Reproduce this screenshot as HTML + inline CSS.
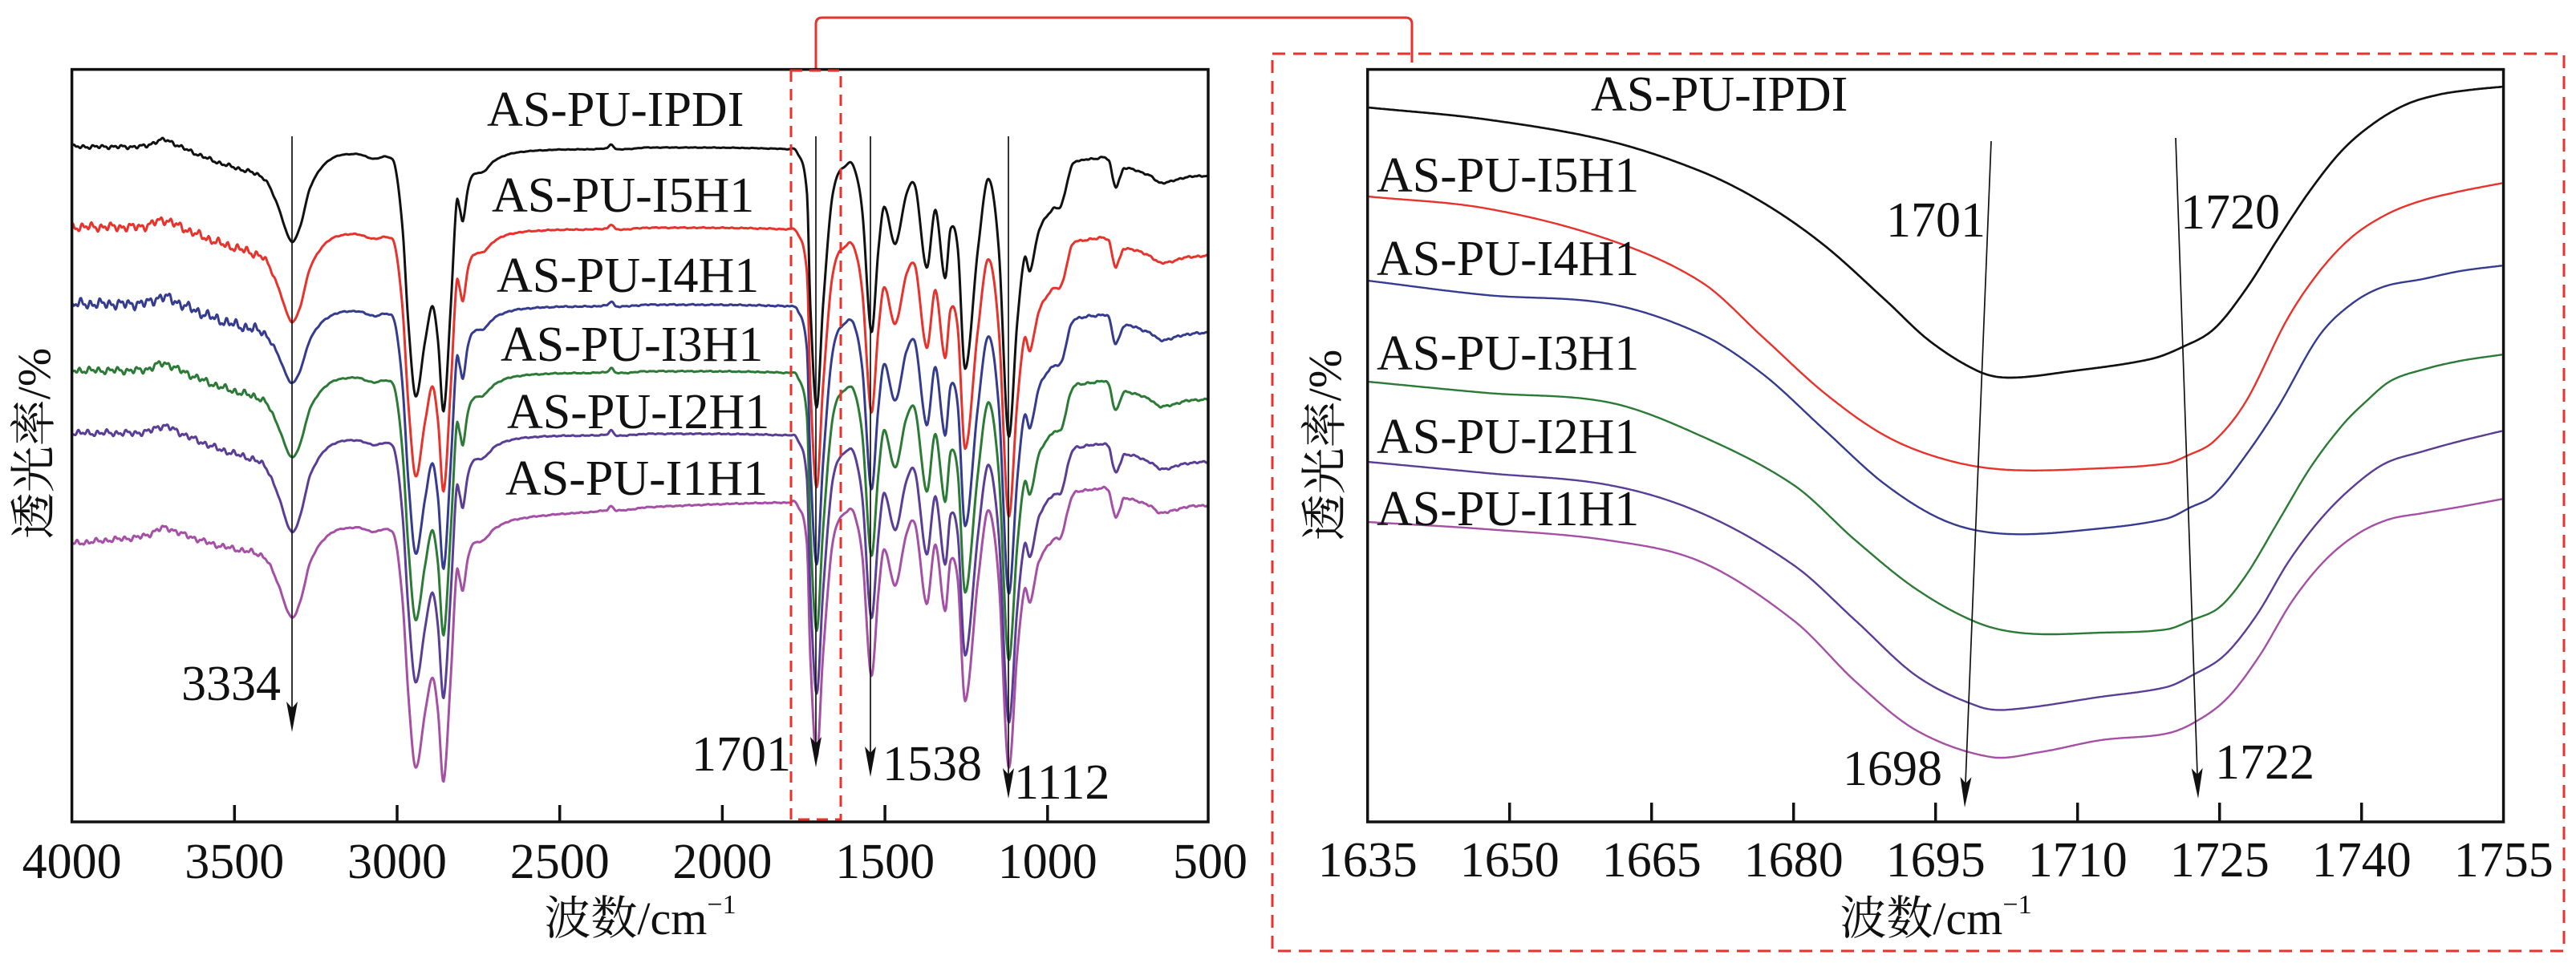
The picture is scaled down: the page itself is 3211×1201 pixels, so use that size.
<!DOCTYPE html>
<html>
<head>
<meta charset="utf-8">
<style>
html,body{margin:0;padding:0;background:#fff;}
svg{display:block;}
text{font-family:"Liberation Serif","Noto Serif CJK SC",serif;fill:#111;}
.cjk{font-family:"Noto Serif CJK SC","Liberation Serif",serif;}
</style>
</head>
<body>
<svg id="s" width="3211" height="1201" viewBox="0 0 3211 1201" xmlns="http://www.w3.org/2000/svg">
<rect width="3211" height="1201" fill="#fff"/>

<!-- red connector and dashed boxes -->
<path d="M1017 88 L1017 30 Q1017 22 1025 22 L1752 22 Q1760 22 1760 30 L1760 78" fill="none" stroke="#e8322c" stroke-width="3"/>
<rect x="1586" y="67" width="1610" height="1119" fill="none" stroke="#e8322c" stroke-width="3" stroke-dasharray="16 10"/>

<!-- curves -->
<g id="lc" fill="none" stroke-width="3" stroke-linejoin="round" stroke-linecap="round"></g>
<g id="rc" fill="none" stroke-width="2.4" stroke-linejoin="round" stroke-linecap="round"></g>

<!-- left frame -->
<rect x="89.6" y="86.6" width="1416.4" height="938.4" fill="none" stroke="#111" stroke-width="3.5"/>
<g stroke="#111" stroke-width="3.5">
<line x1="292.3" y1="1025" x2="292.3" y2="1004"/>
<line x1="495" y1="1025" x2="495" y2="1004"/>
<line x1="697.7" y1="1025" x2="697.7" y2="1004"/>
<line x1="900.4" y1="1025" x2="900.4" y2="1004"/>
<line x1="1103.1" y1="1025" x2="1103.1" y2="1004"/>
<line x1="1305.8" y1="1025" x2="1305.8" y2="1004"/>
</g>
<g font-size="62" text-anchor="middle">
<text x="89.6" y="1095">4000</text>
<text x="292.3" y="1095">3500</text>
<text x="495" y="1095">3000</text>
<text x="697.7" y="1095">2500</text>
<text x="900.4" y="1095">2000</text>
<text x="1103.1" y="1095">1500</text>
<text x="1305.8" y="1095">1000</text>
<text x="1508.5" y="1095">500</text>
</g>
<text x="798" y="1165" text-anchor="middle" font-size="58"><tspan class="cjk">波数</tspan>/cm<tspan dy="-26" font-size="34">−1</tspan></text>
<text transform="translate(62,553) rotate(-90)" text-anchor="middle" font-size="58"><tspan class="cjk">透光率</tspan>/%</text>

<!-- left small dashed box -->
<rect x="986" y="88" width="62" height="934" fill="none" stroke="#e8322c" stroke-width="3" stroke-dasharray="14 9"/>

<!-- left arrows -->
<g stroke="#111" stroke-width="1.7">
<line x1="364" y1="170" x2="364" y2="890"/>
<line x1="1017" y1="170" x2="1017" y2="934"/>
<line x1="1085" y1="170" x2="1085" y2="946"/>
<line x1="1257" y1="170" x2="1257" y2="973"/>
</g>
<g fill="#111">
<path d="M364 913 L357 875 L364 883 L371 875 Z"/>
<path d="M1017 957 L1010 919 L1017 927 L1024 919 Z"/>
<path d="M1085 969 L1078 931 L1085 939 L1092 931 Z"/>
<path d="M1257 996 L1250 958 L1257 966 L1264 958 Z"/>
</g>

<!-- left labels -->
<g font-size="62">
<text x="607" y="157">AS-PU-IPDI</text>
<text x="613" y="264">AS-PU-I5H1</text>
<text x="619" y="364">AS-PU-I4H1</text>
<text x="624" y="450">AS-PU-I3H1</text>
<text x="632" y="534">AS-PU-I2H1</text>
<text x="630" y="617">AS-PU-I1H1</text>
<text x="226" y="873">3334</text>
<text x="862" y="961">1701</text>
<text x="1100" y="973">1538</text>
<text x="1264" y="996">1112</text>
</g>

<!-- right frame -->
<rect x="1704.7" y="86.6" width="1415.9" height="938.4" fill="none" stroke="#111" stroke-width="3.5"/>
<g stroke="#111" stroke-width="3.5">
<line x1="1881.7" y1="1025" x2="1881.7" y2="1001"/>
<line x1="2058.7" y1="1025" x2="2058.7" y2="1001"/>
<line x1="2235.7" y1="1025" x2="2235.7" y2="1001"/>
<line x1="2412.7" y1="1025" x2="2412.7" y2="1001"/>
<line x1="2589.7" y1="1025" x2="2589.7" y2="1001"/>
<line x1="2766.7" y1="1025" x2="2766.7" y2="1001"/>
<line x1="2943.7" y1="1025" x2="2943.7" y2="1001"/>
</g>
<g font-size="62" text-anchor="middle">
<text x="1704.7" y="1093">1635</text>
<text x="1881.7" y="1093">1650</text>
<text x="2058.7" y="1093">1665</text>
<text x="2235.7" y="1093">1680</text>
<text x="2412.7" y="1093">1695</text>
<text x="2589.7" y="1093">1710</text>
<text x="2766.7" y="1093">1725</text>
<text x="2943.7" y="1093">1740</text>
<text x="3120.7" y="1093">1755</text>
</g>
<text x="2413" y="1165" text-anchor="middle" font-size="58"><tspan class="cjk">波数</tspan>/cm<tspan dy="-26" font-size="34">−1</tspan></text>
<text transform="translate(1671,555) rotate(-90)" text-anchor="middle" font-size="58"><tspan class="cjk">透光率</tspan>/%</text>

<!-- right arrows -->
<g stroke="#111" stroke-width="1.7">
<line x1="2482" y1="176" x2="2450" y2="977"/>
<line x1="2712" y1="172" x2="2739" y2="966"/>
</g>
<g fill="#111">
<path d="M2449 1007 L2443.5 968.7 L2450.2 977 L2457.5 969.3 Z"/>
<path d="M2740 996 L2731.7 958.2 L2739 966 L2745.7 957.8 Z"/>
</g>

<!-- right labels -->
<g font-size="62">
<text x="1983" y="138">AS-PU-IPDI</text>
<text x="1716" y="239">AS-PU-I5H1</text>
<text x="1716" y="343">AS-PU-I4H1</text>
<text x="1716" y="461">AS-PU-I3H1</text>
<text x="1716" y="565">AS-PU-I2H1</text>
<text x="1716" y="655">AS-PU-I1H1</text>
<text x="2351" y="295">1701</text>
<text x="2718" y="285">1720</text>
<text x="2297" y="979">1698</text>
<text x="2761" y="971">1722</text>
</g>
</svg>

<script>
(function(){
var NS='http://www.w3.org/2000/svg';
function herm(P,x){
  var n=P.length;
  if(x<=P[0][0]) return P[0][1];
  if(x>=P[n-1][0]) return P[n-1][1];
  var i=0; while(i<n-2 && x>P[i+1][0]) i++;
  function tan(j){
    if(j<=0) return (P[1][1]-P[0][1])/(P[1][0]-P[0][0]);
    if(j>=n-1) return (P[n-1][1]-P[n-2][1])/(P[n-1][0]-P[n-2][0]);
    return (P[j+1][1]-P[j-1][1])/(P[j+1][0]-P[j-1][0]);
  }
  var x0=P[i][0],y0=P[i][1],x1=P[i+1][0],y1=P[i+1][1];
  var m0=tan(i),m1=tan(i+1),h=x1-x0,t=(x-x0)/h,t2=t*t,t3=t2*t;
  return (2*t3-3*t2+1)*y0+(t3-2*t2+t)*h*m0+(-2*t3+3*t2)*y1+(t3-t2)*h*m1;
}
function lin(P,x){
  var n=P.length;
  if(x<=P[0][0]) return P[0][1];
  if(x>=P[n-1][0]) return P[n-1][1];
  for(var i=0;i<n-1;i++){ if(x<=P[i+1][0]){ var t=(x-P[i][0])/(P[i+1][0]-P[i][0]); return P[i][1]+t*(P[i+1][1]-P[i][1]); } }
  return P[n-1][1];
}
function nz(x,s){ return 0.55*Math.sin(0.52*x+s)+0.35*Math.sin(1.07*x+1.7*s)+0.25*Math.sin(0.23*x+2.9*s); }

var B=[[89,183],[130,183],[181,182],[199,175],[208,175],[227,184],[250,194],[273,203],[296,210],[319,217],[332,226],[346,256],[363,301],[374,283],[387,233],[410,200],[443,192],[466,198],[484,196],[493,210],[502,288],[509,403],[518,494],[530,425],[539,382],[546,425],[553,513],[562,380],[569,253],[573,260],[577,276],[583,237],[589,219],[603,214],[617,200],[640,191],[686,187],[756,185],[762,180],[768,186],[809,184],[983,186],[994,191],[1006,242],[1010,380],[1018,508],[1026,380],[1038,242],[1056,205],[1065,210],[1075,265],[1086,414],[1095,311],[1102,258],[1116,304],[1130,242],[1141,233],[1155,334],[1166,262],[1178,347],[1185,285],[1194,311],[1203,460],[1219,311],[1232,223],[1245,311],[1257,543],[1268,402],[1277,322],[1284,338],[1295,288],[1313,260],[1323,256],[1336,207],[1350,200],[1364,198],[1382,200],[1388,226],[1391,233],[1396,222],[1401,210],[1433,219],[1447,228],[1479,221],[1506,219]];
var MAG=[[89,495],[373,468],[535,463],[616,459],[818,448],[980,441],[1122,425],[1182,414],[1506,411]];

var LC=[
 {c:'#a54fa5',off:function(x){return lin(MAG,x);},s3:1.0,a:3,b:0.7,seed:5.1},
 {c:'#5a3d95',off:function(){return 357;},s3:1.05,a:3.5,b:0.7,seed:4.2},
 {c:'#2b7a35',off:function(){return 279;},s3:0.9,a:4,b:0.7,seed:3.3},
 {c:'#353b8e',off:function(){return 196;},s3:0.8,a:6,b:0.8,seed:2.4},
 {c:'#e8322c',off:function(){return 100;},s3:1.0,a:5,b:0.7,seed:1.5},
 {c:'#111111',off:function(){return 0;},s3:1.0,a:2.2,b:0.4,seed:0.6}
];
var lb0=herm(B,300), lb1=herm(B,434);
var lg=document.getElementById('lc');
LC.forEach(function(c){
  var d='';
  for(var x=91;x<=1504;x+=1){
    var yb=herm(B,x);
    var y=yb+c.off(x);
    if(x>300&&x<434){ var lb=lb0+(lb1-lb0)*(x-300)/134; y+=(c.s3-1)*(yb-lb); }
    var env=x<320?1:(x<350?(350-x)/30:0);
    var amp=c.a*env+c.b+(x>1290?0.6:0);
    y+=amp*nz(x,c.seed);
    d+=(x===91?'M':'L')+x+' '+y.toFixed(1);
  }
  var p=document.createElementNS(NS,'path');
  p.setAttribute('d',d); p.setAttribute('stroke',c.c);
  lg.appendChild(p);
});

var RC=[
 {c:'#a54fa5',p:[[1705,651],[1853,660],[2006,674],[2121,701],[2236,774],[2313,850],[2389,911],[2481,944],[2543,938],[2619,923],[2700,915],[2737,900],[2777,870],[2817,817],[2857,750],[2897,700],[2937,667],[2977,648],[3020,640],[3067,632],[3121,622]]},
 {c:'#5a3d95',p:[[1705,576],[1853,590],[2006,605],[2121,640],[2236,705],[2313,774],[2389,843],[2466,881],[2504,885],[2619,869],[2700,857],[2733,842],[2773,817],[2813,767],[2853,700],[2893,647],[2933,607],[2973,578],[3020,563],[3067,550],[3121,537]]},
 {c:'#2b7a35',p:[[1705,476],[1853,490],[2006,502],[2121,544],[2236,605],[2313,674],[2389,735],[2466,777],[2527,790],[2620,789],[2700,785],[2733,773],[2767,757],[2800,717],[2840,650],[2880,583],[2920,530],[2950,500],[2980,475],[3020,461],[3067,450],[3121,442]]},
 {c:'#353b8e',p:[[1705,350],[1853,368],[2006,379],[2121,417],[2198,467],[2274,536],[2351,605],[2428,651],[2504,666],[2619,659],[2700,647],[2730,633],[2760,617],[2800,567],[2840,507],[2890,420],[2930,380],[2970,358],[3020,348],[3067,338],[3121,331]]},
 {c:'#e8322c',p:[[1705,245],[1853,260],[2006,299],[2121,352],[2198,421],[2274,490],[2351,544],[2428,574],[2504,586],[2619,584],[2700,578],[2727,568],[2760,550],[2800,500],[2850,400],[2890,340],[2930,297],[2970,270],[3010,253],[3060,240],[3121,228]]},
 {c:'#111111',p:[[1705,134],[1853,149],[2006,176],[2121,214],[2198,253],[2274,306],[2351,375],[2405,425],[2466,463],[2504,471],[2581,463],[2680,448],[2720,433],[2760,410],[2800,360],[2840,297],[2880,237],[2920,187],[2960,153],[3000,130],[3040,118],[3080,112],[3121,108]]}
];
var rg=document.getElementById('rc');
RC.forEach(function(c,k){
  var d='';
  for(var x=1706;x<=3119;x+=2){
    var y=herm(c.p,x);
    d+=(x===1706?'M':'L')+x+' '+y.toFixed(1);
  }
  var p=document.createElementNS(NS,'path');
  p.setAttribute('d',d); p.setAttribute('stroke',c.c);
  if(k===5) p.setAttribute('stroke-width','2.7');
  rg.appendChild(p);
});
})();
</script>
</body>
</html>
